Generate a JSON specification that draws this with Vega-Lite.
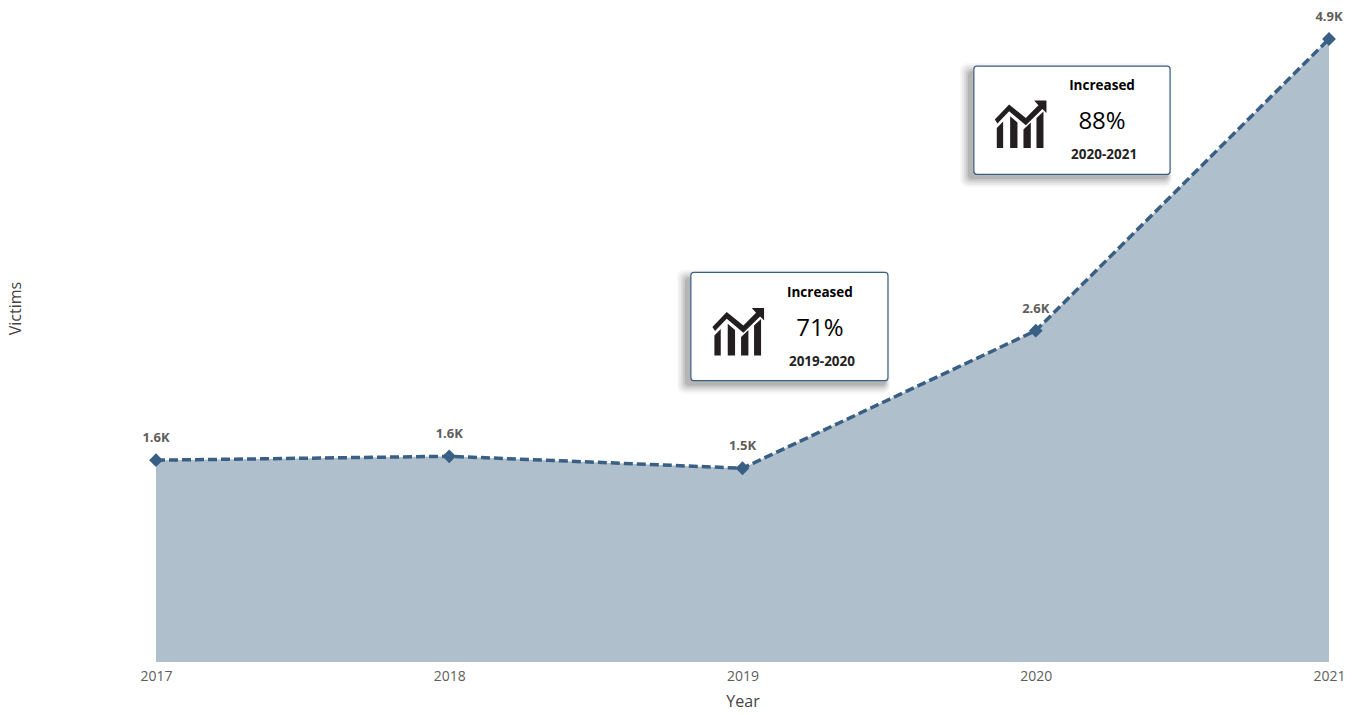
{
"$schema":"https://vega.github.io/schema/vega-lite/v6.json",
"width":1173,"height":623,
"autosize":{"type":"none"},
"padding":{"left":156,"top":39,"right":27,"bottom":53},
"background":"white",
"config":{"view":{"stroke":null},"font":"Open Sans"},
"datasets":{
"victims":[
{"year":2017,"victims":1587,"label":"1.6K"},
{"year":2018,"victims":1618,"label":"1.6K"},
{"year":2019,"victims":1524,"label":"1.5K"},
{"year":2020,"victims":2606,"label":"2.6K"},
{"year":2021,"victims":4900,"label":"4.9K"}],
"callouts":[
{"left":2018.824,"right":2019.496,"top":3064,"bottom":2213,"iconX":2018.986,"iconY":2595},
{"left":2019.789,"right":2020.458,"top":4687,"bottom":3836,"iconX":2019.949,"iconY":4227}],
"calloutText":[
{"x":2019.264,"y":2905,"text":"Increased","kind":"head"},
{"x":2019.264,"y":2621,"text":"71%","kind":"pct"},
{"x":2019.271,"y":2361,"text":"2019-2020","kind":"range"},
{"x":2020.226,"y":4528,"text":"Increased","kind":"head"},
{"x":2020.226,"y":4244,"text":"88%","kind":"pct"},
{"x":2020.233,"y":3984,"text":"2020-2021","kind":"range"}]
},
"layer":[
{"data":{"name":"victims"},
 "mark":{"type":"area","color":"#b0bfcc","opacity":1},
 "encoding":{
  "x":{"field":"year","type":"quantitative","scale":{"domain":[2017,2021],"nice":false,"zero":false},
   "axis":{"values":[2017,2018,2019,2020,2021],"format":"d","title":"Year","grid":false,"domain":false,"ticks":false,"labelFontSize":14,"labelColor":"#605e5c","labelPadding":7,"labelFlush":false,"titleFontSize":16,"titleFontWeight":"normal","titleColor":"#444444","titlePadding":10}},
  "y":{"field":"victims","type":"quantitative","scale":{"domain":[0,4900],"nice":false},
   "axis":{"title":"Victims","labels":false,"grid":false,"domain":false,"ticks":false,"titleFontSize":16,"titleFontWeight":"normal","titleColor":"#444444","titleX":-133,"titleY":269}}
 }},
{"data":{"name":"victims"},
 "mark":{"type":"line","color":"#3a5f85","strokeWidth":3.5,"strokeDash":[9,4]},
 "encoding":{"x":{"field":"year","type":"quantitative"},"y":{"field":"victims","type":"quantitative"}}},
{"data":{"name":"victims"},
 "mark":{"type":"point","shape":"diamond","filled":true,"size":190,"color":"#3a5f85","opacity":1},
 "encoding":{"x":{"field":"year","type":"quantitative"},"y":{"field":"victims","type":"quantitative"}}},
{"data":{"name":"victims"},
 "mark":{"type":"text","dy":-22,"fontSize":13,"fontWeight":"bold","color":"#605e5c"},
 "encoding":{"x":{"field":"year","type":"quantitative"},"y":{"field":"victims","type":"quantitative"},"text":{"field":"label"}}},
{"data":{"name":"callouts"},
 "mark":{"type":"rect","color":"#000","opacity":0.03,"cornerRadius":8,"xOffset":-14,"x2Offset":2,"yOffset":-3,"y2Offset":13},
 "encoding":{"x":{"field":"left","type":"quantitative"},"x2":{"field":"right"},"y":{"field":"top","type":"quantitative"},"y2":{"field":"bottom"}}},
{"data":{"name":"callouts"},
 "mark":{"type":"rect","color":"#000","opacity":0.05,"cornerRadius":7,"xOffset":-12,"x2Offset":1,"yOffset":-1,"y2Offset":11},
 "encoding":{"x":{"field":"left","type":"quantitative"},"x2":{"field":"right"},"y":{"field":"top","type":"quantitative"},"y2":{"field":"bottom"}}},
{"data":{"name":"callouts"},
 "mark":{"type":"rect","color":"#000","opacity":0.06,"cornerRadius":6,"xOffset":-10,"x2Offset":0,"yOffset":1,"y2Offset":9},
 "encoding":{"x":{"field":"left","type":"quantitative"},"x2":{"field":"right"},"y":{"field":"top","type":"quantitative"},"y2":{"field":"bottom"}}},
{"data":{"name":"callouts"},
 "mark":{"type":"rect","color":"#000","opacity":0.08,"cornerRadius":5,"xOffset":-8,"x2Offset":-1,"yOffset":3,"y2Offset":7},
 "encoding":{"x":{"field":"left","type":"quantitative"},"x2":{"field":"right"},"y":{"field":"top","type":"quantitative"},"y2":{"field":"bottom"}}},
{"data":{"name":"callouts"},
 "mark":{"type":"rect","color":"#000","opacity":0.1,"cornerRadius":4,"xOffset":-6,"x2Offset":-2,"yOffset":5,"y2Offset":5},
 "encoding":{"x":{"field":"left","type":"quantitative"},"x2":{"field":"right"},"y":{"field":"top","type":"quantitative"},"y2":{"field":"bottom"}}},
{"data":{"name":"callouts"},
 "mark":{"type":"rect","fill":"white","stroke":"#3a5f85","strokeWidth":1.2,"cornerRadius":3},
 "encoding":{"x":{"field":"left","type":"quantitative"},"x2":{"field":"right"},"y":{"field":"top","type":"quantitative"},"y2":{"field":"bottom"}}},
{"data":{"name":"callouts"},
 "mark":{"type":"point","filled":true,"color":"#231f20","opacity":1,"size":2704,
  "shape":"M-1,-.192L-.449,-.769L.192,-.256L.679,-.744L.513,-.923L.987,-.923L.987,-.449L.833,-.603L.192,.026L-.449,-.513L-.897,-.038ZM-.923,.128L-.679,-.12L-.679,.897L-.923,.897ZM-.41,-.32L-.128,-.08L-.128,.897L-.41,.897ZM.103,.192L.385,-.08L.385,.897L.103,.897ZM.603,-.256L.872,-.5L.872,.897L.603,.897Z"},
 "encoding":{"x":{"field":"iconX","type":"quantitative"},"y":{"field":"iconY","type":"quantitative"}}},
{"data":{"name":"calloutText"},"transform":[{"filter":"datum.kind==='head'"}],
 "mark":{"type":"text","fontSize":13.5,"fontWeight":"bold","color":"#000"},
 "encoding":{"x":{"field":"x","type":"quantitative"},"y":{"field":"y","type":"quantitative"},"text":{"field":"text"}}},
{"data":{"name":"calloutText"},"transform":[{"filter":"datum.kind==='pct'"}],
 "mark":{"type":"text","fontSize":24,"color":"#000"},
 "encoding":{"x":{"field":"x","type":"quantitative"},"y":{"field":"y","type":"quantitative"},"text":{"field":"text"}}},
{"data":{"name":"calloutText"},"transform":[{"filter":"datum.kind==='range'"}],
 "mark":{"type":"text","fontSize":13.5,"fontWeight":"bold","color":"#252423"},
 "encoding":{"x":{"field":"x","type":"quantitative"},"y":{"field":"y","type":"quantitative"},"text":{"field":"text"}}}
]
}
